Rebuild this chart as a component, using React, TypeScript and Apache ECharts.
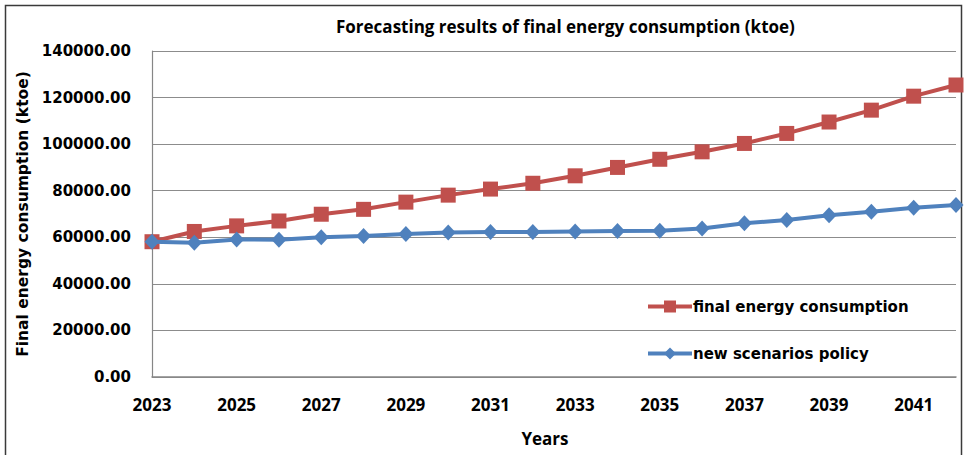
import React, { useEffect, useRef } from "react";
import * as echarts from "echarts";

const years = ["2023","2024","2025","2026","2027","2028","2029","2030","2031","2032","2033","2034","2035","2036","2037","2038","2039","2040","2041","2042"];
const finalEnergy = [58100, 62500, 64900, 67000, 69900, 72000, 75100, 78100, 80700, 83200, 86400, 90000, 93500, 96700, 100300, 104600, 109500, 114600, 120600, 125400];
const newPolicy = [58100, 57700, 59100, 58900, 60000, 60600, 61400, 62100, 62300, 62300, 62500, 62700, 62800, 63800, 66000, 67400, 69500, 71000, 72700, 73900];
const seriesNames = ["final energy consumption", "new scenarios policy"];
const titleText = "Forecasting results of final energy consumption (ktoe)";
const yTitle = "Final energy consumption (ktoe)";
const xTitle = "Years";

export default function App() {
  const ref = useRef<HTMLDivElement>(null);
  useEffect(() => {
    document.body.style.margin = "0";
    const chart = echarts.init(ref.current!, null, { renderer: "svg" });
    const wide = "DejaVu Sans";
    const narrow = "Open Sans";
    chart.setOption({
      animation: false,
      backgroundColor: "#fff",
      title: {
        text: titleText,
        left: 331,
        top: 13,
        textStyle: { fontFamily: narrow, fontWeight: "bold", fontSize: 17, color: "#000" },
      },
      graphic: [
        {
          type: "rect",
          shape: { x: 5.5, y: 5.5, width: 956, height: 470 },
          style: { fill: "none", stroke: "#3a3a3a", lineWidth: 1.5 },
          silent: true,
        },
      ],
      legend: {
        orient: "vertical",
        left: 641,
        top: 294,
        itemWidth: 44,
        itemHeight: 15,
        itemGap: 32,
        data: seriesNames,
        lineStyle: { width: 4 },
        textStyle: { fontFamily: wide, fontWeight: "bold", fontSize: 15, color: "#000", padding: [0, 0, 0, -4] },
      },
      grid: { left: 152, right: 8, top: 51, bottom: 78 },
      xAxis: {
        type: "category",
        data: years,
        boundaryGap: false,
        name: xTitle,
        nameLocation: "middle",
        nameGap: 53,
        nameTextStyle: { fontFamily: narrow, fontWeight: "bold", fontSize: 17, color: "#000", padding: [0, 18, 0, 0] },
        axisLine: { lineStyle: { color: "#868686", width: 1.5 } },
        axisTick: { show: false },
        axisLabel: { interval: 1, margin: 19, fontFamily: narrow, fontWeight: "bold", fontSize: 17, color: "#000" },
        splitLine: { show: false },
      },
      yAxis: {
        type: "value",
        min: 0,
        max: 140000,
        interval: 20000,
        name: yTitle,
        nameLocation: "middle",
        nameGap: 110,
        nameTextStyle: { fontFamily: wide, fontWeight: "bold", fontSize: 15.5, color: "#000" },
        axisLine: { show: true, lineStyle: { color: "#868686", width: 1.2 } },
        axisTick: { show: false },
        axisLabel: {
          margin: 21,
          fontFamily: wide,
          fontWeight: "bold",
          fontSize: 15,
          color: "#000",
          formatter: (v: number) => v.toFixed(2),
        },
        splitLine: { lineStyle: { color: "#8c8c8c", width: 1.2 } },
      },
      series: [
        {
          name: seriesNames[0],
          type: "line",
          data: finalEnergy,
          symbol: "rect",
          symbolSize: 15,
          lineStyle: { color: "#C0504D", width: 4 },
          itemStyle: { color: "#C0504D" },
          z: 2,
        },
        {
          name: seriesNames[1],
          type: "line",
          data: newPolicy,
          symbol: "diamond",
          symbolSize: [15, 16],
          lineStyle: { color: "#4F81BD", width: 4 },
          itemStyle: { color: "#4F81BD" },
          z: 3,
        },
      ],
    });
    return () => chart.dispose();
  }, []);
  return <div ref={ref} style={{ width: 964, height: 455 }} />;
}
